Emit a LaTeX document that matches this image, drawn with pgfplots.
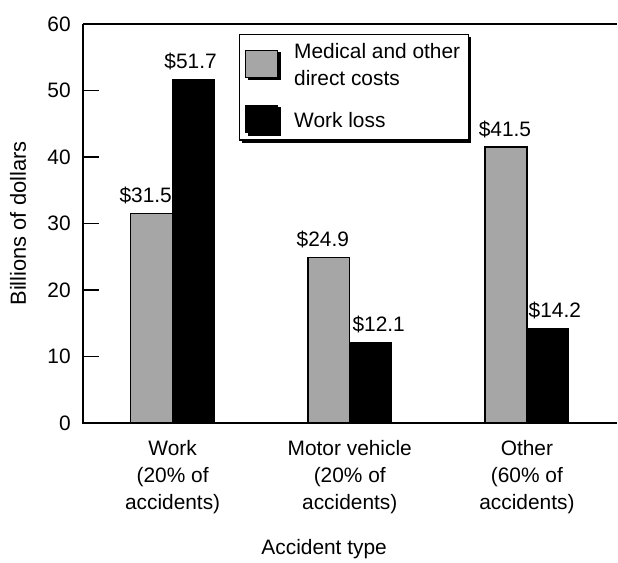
\documentclass[border=0pt]{standalone}
\usepackage{pgfplots}
\usepackage{pgfplotstable}
\pgfplotsset{compat=1.18}
\usepackage{fontspec}
\setmainfont{Liberation Sans}
\usetikzlibrary{shadows}
\pgfplotstableread{
x y dx
0 31.5 -6
1 24.9 -6
2 41.5 -1
}\medical
\pgfplotstableread{
x y dx
0 51.7 -3
1 12.1 8
2 14.2 7
}\workloss
\begin{document}
\begin{tikzpicture}[font=\fontsize{21}{27}\selectfont]
\begin{axis}[
  at={(0,0)}, anchor=south west,
  scale only axis, width=535bp, height=400bp,
  xmin=-0.507, xmax=2.507, ymin=0, ymax=60,
  axis line style={draw=none},
  clip=false,
  ybar=0pt, bar width=42bp,
  xtick={0,1,2},
  xticklabels={{Work\\(20\% of\\accidents)},{Motor vehicle\\(20\% of\\accidents)},{Other\\(60\% of\\accidents)}},
  xticklabel style={align=center, anchor=north, inner sep=0pt, yshift=-17bp, font=\fontsize{21}{27}\selectfont},
  x tick style={draw=none},
  ytick={0,10,...,60},
  ytick pos=left,
  tick align=inside,
  major tick length=16bp,
  y tick style={line width=1.6bp, black},
  yticklabel style={font=\fontsize{21}{24}\selectfont, inner sep=0pt, xshift=-12bp},
  /pgf/number format/assume math mode=true,
  ylabel={Billions of dollars},
  ylabel style={at={(axis description cs:-0.1215,0.5)}, anchor=center, font=\fontsize{22}{24}\selectfont},
  xlabel={Accident type},
  xlabel style={at={(axis description cs:0.452,-0.33)}, anchor=base, font=\fontsize{21}{24}\selectfont},
  visualization depends on={\thisrow{dx} \as \dx},
  nodes near coords={\$\pgfmathprintnumber[fixed,precision=1,fixed zerofill]{\pgfplotspointmeta}},
  nodes near coords style={anchor=base, yshift=11bp, xshift=\dx bp, font=\fontsize{21}{24}\selectfont, text=black},
  legend style={at={(rel axis cs:0.2916,0.975)}, anchor=north west, draw=black, line width=1.3bp, fill=white,
    inner xsep=6bp, inner ysep=7bp, row sep=16bp, font=\fontsize{21}{27}\selectfont,
    drop shadow={shadow xshift=2.5bp, shadow yshift=-2.5bp, fill=black, opacity=1},
    /tikz/every odd column/.append style={column sep=14bp},
    cells={align=left}},
  legend cell align=left,
  legend image code/.code={\draw[#1, line width=1.2bp] (0bp,-12bp) rectangle (32bp,15bp);},
]
\addplot[fill=black!35, draw=black, line width=1.3bp] table[x=x,y=y] {\medical};
\addlegendentry{Medical and other\\direct costs}
\addplot[fill=black, draw=black, line width=1.3bp] table[x=x,y=y] {\workloss};
\addlegendentry{Work loss}
\draw[line width=2.6bp] (rel axis cs:0,1) -- (rel axis cs:0,0) -- (rel axis cs:1,0);
\draw[line width=1.8bp] (rel axis cs:0,1) -- (rel axis cs:1,1);
\end{axis}
\path (-83bp,-130bp) rectangle (535bp,424bp);
\end{tikzpicture}
\end{document}
